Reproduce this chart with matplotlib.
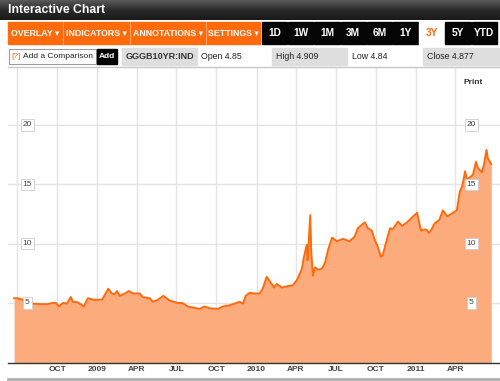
import numpy as np
import pandas as pd
import matplotlib
matplotlib.use("Agg")
import matplotlib.pyplot as plt
import matplotlib.transforms as mtransforms
from matplotlib.patches import Rectangle

plt.rcParams['font.family'] = ['Liberation Sans', 'DejaVu Sans']

# --- data (GGGB10YR:IND, 3Y) ---
dates = [
    "2008-06-24", "2008-07-01", "2008-07-12", "2008-07-24", "2008-08-06", "2008-08-22",
    "2008-09-07", "2008-09-21", "2008-09-28", "2008-10-05", "2008-10-14", "2008-10-23",
    "2008-11-01", "2008-11-06", "2008-11-17", "2008-12-01", "2008-12-10", "2008-12-26",
    "2009-01-12", "2009-01-26", "2009-02-03", "2009-02-10", "2009-02-15", "2009-02-21",
    "2009-03-05", "2009-03-14", "2009-03-24", "2009-04-08", "2009-04-15", "2009-05-01",
    "2009-05-08", "2009-05-19", "2009-06-01", "2009-06-16", "2009-07-04", "2009-07-15",
    "2009-07-27", "2009-08-23", "2009-09-04", "2009-09-15", "2009-10-04", "2009-10-15",
    "2009-10-31", "2009-11-16", "2009-11-23", "2009-12-01", "2009-12-07", "2009-12-16",
    "2009-12-28", "2010-01-08", "2010-01-15", "2010-01-24", "2010-02-01", "2010-02-10",
    "2010-02-16", "2010-02-28", "2010-03-11", "2010-03-25", "2010-04-03", "2010-04-08",
    "2010-04-15", "2010-04-19", "2010-04-26", "2010-04-28", "2010-05-04", "2010-05-06",
    "2010-05-10", "2010-05-15", "2010-05-22", "2010-05-31", "2010-06-07", "2010-06-14",
    "2010-06-23", "2010-07-04", "2010-07-18", "2010-08-02", "2010-08-14", "2010-08-21",
    "2010-09-06", "2010-09-13", "2010-09-22", "2010-09-29", "2010-10-06", "2010-10-13",
    "2010-10-17", "2010-10-24", "2010-11-03", "2010-11-09", "2010-11-21", "2010-12-01",
    "2010-12-12", "2010-12-26", "2011-01-04", "2011-01-08", "2011-01-13", "2011-01-22",
    "2011-01-26", "2011-01-31", "2011-02-06", "2011-02-13", "2011-02-24", "2011-03-04",
    "2011-03-14", "2011-03-21", "2011-04-05", "2011-04-12", "2011-04-17", "2011-04-21",
    "2011-04-24", "2011-04-28", "2011-05-12", "2011-05-19", "2011-05-23", "2011-06-01",
    "2011-06-06", "2011-06-12", "2011-06-15", "2011-06-23",
]
values = [
    5.4, 5.4, 5.3, 5.0, 4.95, 4.9,
    4.9, 5.0, 5.0, 4.7, 5.0, 4.95,
    5.5, 5.1, 5.05, 4.7, 5.4, 5.25,
    5.3, 6.2, 5.8, 5.75, 6.0, 5.6,
    5.8, 6.0, 5.8, 5.8, 5.5, 5.4,
    5.1, 5.25, 5.6, 5.2, 5.0, 5.0,
    4.7, 4.5, 4.7, 4.55, 4.5, 4.7,
    4.8, 5.0, 5.1, 4.95, 5.6, 5.85,
    5.8, 5.8, 6.2, 7.2, 6.8, 6.3,
    6.6, 6.3, 6.4, 6.5, 6.9, 7.3,
    7.9, 8.8, 9.9, 8.6, 12.4, 9.5,
    7.3, 8.0, 7.8, 7.9, 8.4, 9.5,
    10.5, 10.2, 10.4, 10.2, 10.6, 11.3,
    11.8, 11.3, 11.1, 10.3, 9.7, 8.9,
    9.0, 10.0, 11.3, 11.2, 11.85, 11.5,
    11.8, 12.3, 12.6, 11.9, 11.1, 11.2,
    11.15, 10.9, 11.2, 11.7, 12.0, 12.8,
    12.3, 12.45, 12.8, 14.4, 14.8, 15.5,
    16.1, 15.4, 15.8, 16.9, 16.4, 16.0,
    16.6, 17.9, 17.2, 16.7,
]
grid_dates = ["2008-07-01", "2008-10-01", "2009-01-01", "2009-04-01", "2009-07-01",
              "2009-10-01", "2010-01-01", "2010-04-01", "2010-07-01", "2010-10-01",
              "2011-01-01", "2011-04-01"]
grid_labels = ["", "OCT", "2009", "APR", "JUL", "OCT", "2010", "APR", "JUL", "OCT",
               "2011", "APR"]
y_ticks = [5, 10, 15, 20]

toolbar_orange = ["OVERLAY \u25be", "INDICATORS \u25be", "ANNOTATIONS \u25be", "SETTINGS \u25be"]
toolbar_ranges = ["1D", "1W", "1M", "3M", "6M", "1Y", "3Y", "5Y", "YTD"]
active_range = "3Y"
ticker = "GGGB10YR:IND"
quote = {"Open": "4.85", "High": "4.909", "Low": "4.84", "Close": "4.877"}

ORANGE = "#ff6a0d"
FILL = "#fcab7c"

W, H = 500, 381
fig = plt.figure(figsize=(W / 100, H / 100), dpi=100)

# background axes in pixel coordinates
bg = fig.add_axes([0, 0, 1, 1])
bg.set_xlim(0, W)
bg.set_ylim(H, 0)
bg.axis("off")

# title bar with a dark gradient
grad = np.linspace(0, 1, 50).reshape(-1, 1)
bg.imshow(grad, extent=(0, W, 20, 0), cmap=matplotlib.colors.LinearSegmentedColormap.from_list(
    "hdr", ["#5a5a5a", "#2a2a2a", "#1a1a1a"]), aspect="auto", zorder=1)
bg.text(8, 10, "Interactive Chart", color="white", fontsize=8.8, fontweight="bold",
        va="center", ha="left", zorder=3)

# toolbar row
bg.add_patch(Rectangle((8, 22), 252, 22, color=ORANGE, zorder=1))
x_edges = [8, 63, 130, 206, 260]
for i, lab in enumerate(toolbar_orange):
    x0, x1 = x_edges[i], x_edges[i + 1]
    if i > 0:
        bg.plot([x0, x0], [22, 44], color="#ffa060", lw=0.8, zorder=2)
    bg.text((x0 + x1) / 2, 33.5, lab, color="white", fontsize=6.3, fontweight="bold",
            ha="center", va="center", zorder=3)
bw = 26.2
for i, lab in enumerate(toolbar_ranges):
    x0 = 262 + i * bw
    if lab == active_range:
        bg.add_patch(Rectangle((x0, 22), bw - 1, 22, color="white", zorder=1))
        col = ORANGE
    else:
        bg.add_patch(Rectangle((x0, 22), bw - 1, 22, color="#050505", zorder=1))
        col = "white"
    bg.text(x0 + (bw - 1) / 2, 33.5, lab, color=col, fontsize=7.3, fontweight="bold",
            ha="center", va="center", zorder=3)

# comparison / quote row
bg.add_patch(Rectangle((9, 49), 87, 15, facecolor="white", edgecolor="#999999", lw=0.7, zorder=1))
bg.text(11, 56.5, "[?]", color=ORANGE, fontsize=6, ha="left", va="center", zorder=3)
bg.text(23, 56.5, "Add a Comparison", color="#222222", fontsize=6, ha="left", va="center", zorder=3)
bg.add_patch(Rectangle((97, 49), 20, 15, color="#000000", zorder=1))
bg.text(107, 56.5, "Add", color="white", fontsize=6, fontweight="bold", ha="center", va="center", zorder=3)
bg.add_patch(Rectangle((122, 48), 75, 17, color="#dedede", zorder=1))
bg.text(159.5, 56.5, ticker, color="#333333", fontsize=6.5, fontweight="bold", ha="center", va="center", zorder=3)
bg.text(201, 56.5, f"Open {quote['Open']}", color="#222222", fontsize=6.3, ha="left", va="center", zorder=3)
bg.add_patch(Rectangle((272, 48), 75, 17, color="#dedede", zorder=1))
bg.text(276, 56.5, f"High {quote['High']}", color="#222222", fontsize=6.3, ha="left", va="center", zorder=3)
bg.text(352, 56.5, f"Low {quote['Low']}", color="#222222", fontsize=6.3, ha="left", va="center", zorder=3)
bg.add_patch(Rectangle((423, 48), 77, 17, color="#dedede", zorder=1))
bg.text(427, 56.5, f"Close {quote['Close']}", color="#222222", fontsize=6.3, ha="left", va="center", zorder=3)

bg.plot([8, 500], [67, 67], color="#c8c8c8", lw=1.0, zorder=2)
bg.plot([8, 500], [378.5, 378.5], color="#b0b0b0", lw=2.0, zorder=2)
bg.text(473, 83, "Print", color="#333333", fontsize=6, fontweight="bold", ha="center", va="center", zorder=3)

# main chart
x = pd.to_datetime(dates)
y = np.array(values)
gx = pd.to_datetime(grid_dates)

ax = fig.add_axes([8 / W, 1 - 363 / H, 492 / W, (363 - 68) / H])
ax.patch.set_alpha(0)
ax.fill_between(x, y, -1, color=FILL, lw=0, zorder=2)
ax.plot(x, y, color=ORANGE, lw=1.4, zorder=3)

ax.set_xlim(pd.Timestamp("2008-06-10"), pd.Timestamp("2011-07-13"))
ax.set_ylim(-0.06, 24.8)
for g in gx:
    ax.axvline(g, color="#e4e4e4", lw=1.0, zorder=1)
for v in y_ticks:
    ax.axhline(v, color="#e4e4e4", lw=1.0, zorder=1)

# boxed value labels on both sides of the plot
trans = mtransforms.blended_transform_factory(ax.transAxes, ax.transData)
for v in y_ticks:
    for xa in (19.5 / 492, 463.5 / 492):
        ax.text(xa, v, str(v), transform=trans, fontsize=6, color="#444444",
                ha="center", va="center", zorder=4,
                bbox=dict(boxstyle="square,pad=0.25", fc="white", ec="#cccccc", lw=0.6))

ax.set_xticks(gx)
ax.set_xticklabels(grid_labels, fontsize=6, color="#444444", fontweight="bold")
ax.set_yticks([])
ax.tick_params(axis="x", length=0, pad=2.5)
for s in ("top", "right", "left"):
    ax.spines[s].set_visible(False)
ax.spines["bottom"].set_color("#333333")
ax.spines["bottom"].set_linewidth(1.0)

fig.savefig("out.png", dpi=100)
